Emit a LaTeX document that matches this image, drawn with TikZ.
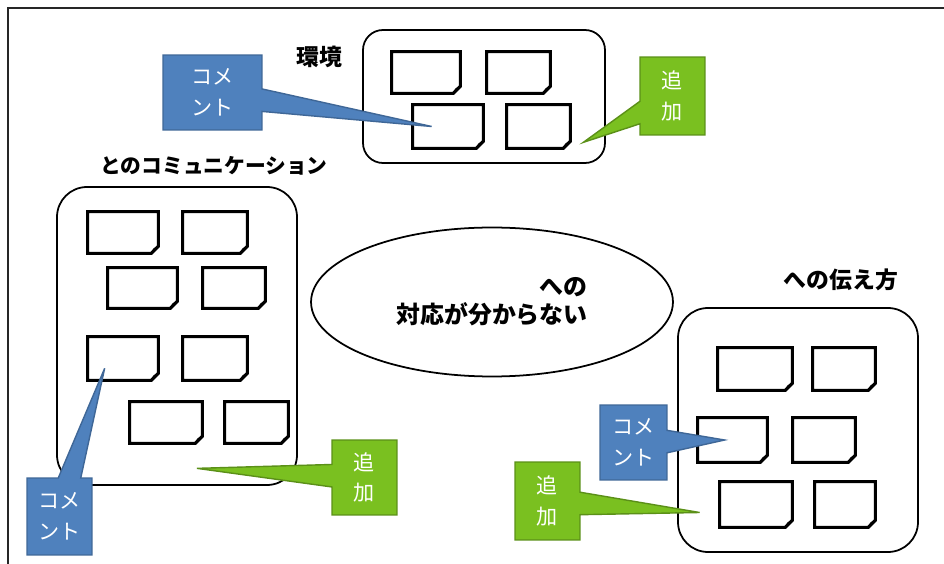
\documentclass[tikz,border=0pt]{standalone}
\usepackage{fontspec}
\setmainfont{Noto Sans CJK JP}
\usetikzlibrary{shapes.geometric,shapes.callouts,fit}
\definecolor{memoblue}{RGB}{79,129,189}
\definecolor{memogreen}{RGB}{122,192,32}

% folded memo: name, top-left x,y, bottom-right x,y
\newcommand{\memobox}[5]{%
  \node[memo, fit={(#2,#3) (#4,#5)}] (#1) {};
  \draw[memoline] (#1.north west) -- (#1.north east) -- ([yshift=4pt]#1.south east)
    -- ([xshift=-4pt]#1.south east) -- (#1.south west) -- cycle;
  \draw[memoline, line width=0.8pt] ([xshift=-4pt]#1.south east) -- ([xshift=-2.5pt,yshift=2.5pt]#1.south east)
    -- ([yshift=4pt]#1.south east);
}

\begin{document}
\begin{tikzpicture}[x=0.02cm, y=-0.02cm,
    frame/.style={line width=1.1pt, black!85},
    group/.style={draw, line width=1pt, inner sep=0pt},
    memo/.style={inner sep=0pt},
    memoline/.style={line width=1.8pt, line join=miter},
    grouplabel/.style={font=\fontsize{13}{15}\selectfont\bfseries},
    callbox/.style={rectangle callout, line width=0.8pt, text=white, align=center,
      font=\fontsize{12}{17.5}\selectfont, inner sep=0pt, callout pointer width=0.45cm},
    comment/.style={callbox, fill=memoblue, draw=memoblue!80!black},
    addition/.style={callbox, fill=memogreen, draw=memogreen!75!black}]
    \useasboundingbox (0,0) rectangle (944,564);
    \draw[frame] (8,564) -- (8,8) -- (944,8);

    % groups
    \node[group, rounded corners=0.4cm, fit={(363,30) (605,163)}] (env) {};
    \node[group, rounded corners=0.6cm, fit={(57,187) (297,485)}] (comm) {};
    \node[group, rounded corners=0.6cm, fit={(678,308) (918,552)}] (tell) {};
    \node[grouplabel] (envlabel) at (319,57) {環境};
    \node[grouplabel, font=\fontsize{11.8}{15}\selectfont\bfseries] (commlabel) at (214,166) {とのコミュニケーション};
    \node[grouplabel] (telllabel) at (841,280) {への伝え方};

    \node[draw, line width=1pt, ellipse, minimum width=7.24cm, minimum height=2.98cm,
      align=right, font=\fontsize{13.6}{16}\selectfont\bfseries] (issue) at (492,302)
      {への\\対応が分からない};

    % memos
    \memobox{t1}{392}{52}{460}{93}
    \memobox{t2}{487}{52}{550}{93}
    \memobox{t3}{413}{105}{483}{148}
    \memobox{t4}{507}{105}{570}{148}

    \memobox{l1}{88}{212}{158}{253}
    \memobox{l2}{183}{212}{247}{253}
    \memobox{l3}{108}{268}{177}{308}
    \memobox{l4}{203}{268}{265}{308}
    \memobox{l5}{88}{337}{158}{380}
    \memobox{l6}{183}{337}{247}{380}
    \memobox{l7}{130}{402}{202}{443}
    \memobox{l8}{225}{402}{288}{443}

    \memobox{r1}{718}{348}{792}{390}
    \memobox{r2}{813}{348}{875}{390}
    \memobox{r3}{698}{418}{767}{462}
    \memobox{r4}{793}{418}{855}{462}
    \memobox{r5}{720}{482}{792}{527}
    \memobox{r6}{815}{482}{875}{527}

    % callouts
    \node[comment, minimum width=1.98cm, minimum height=1.5cm,
      callout absolute pointer={([shift={(19,0)}]t3.west)}] (c1) at (212.5,92.5) {コメ\\ント};
    \node[addition, minimum width=1.3cm, minimum height=1.56cm,
      callout absolute pointer={([shift={(13,-6)}]t4.south east)}] (a1) at (672.5,96) {追\\加};
    \node[comment, minimum width=1.3cm, minimum height=1.54cm,
      callout absolute pointer={([shift={(17,-12)}]l5.south west)}] (c2) at (59.5,516.5) {コメ\\ント};
    \node[addition, minimum width=1.3cm, minimum height=1.5cm,
      callout absolute pointer={([shift={(31,25)}]l7.south)}] (a2) at (364.5,477.5) {追\\加};
    \node[comment, minimum width=1.34cm, minimum height=1.5cm,
      callout absolute pointer={([shift={(27,0)}]r3.west)}] (c3) at (633.5,442.5) {コメ\\ント};
    \node[addition, minimum width=1.3cm, minimum height=1.56cm,
      callout absolute pointer={([shift={(-20,8)}]r5.west)}] (a3) at (547.5,501) {追\\加};
\end{tikzpicture}
\end{document}
